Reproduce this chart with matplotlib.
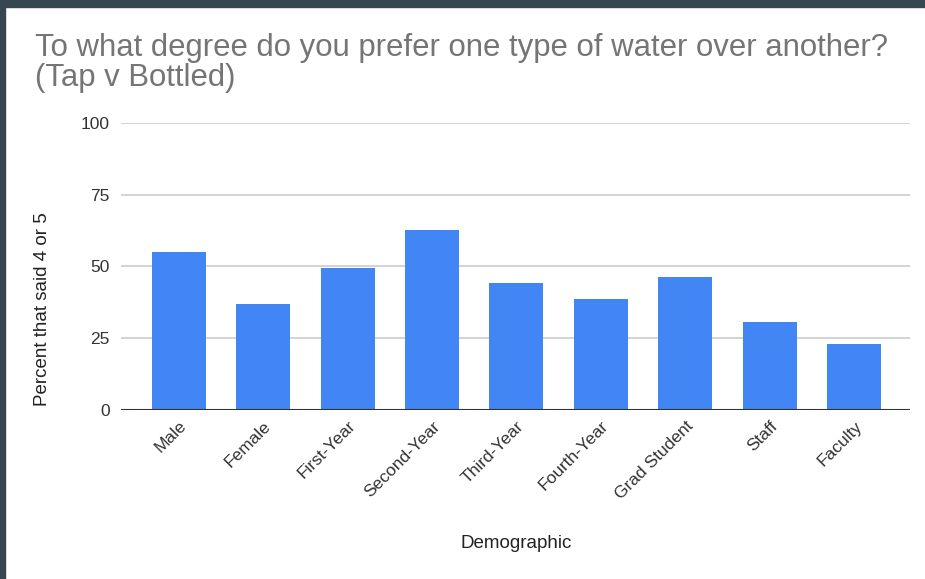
import matplotlib
matplotlib.use("Agg")
import matplotlib.pyplot as plt
from matplotlib.patches import Rectangle

plt.rcParams['font.family'] = ['Liberation Sans', 'DejaVu Sans']

categories = ["Male", "Female", "First-Year", "Second-Year", "Third-Year",
              "Fourth-Year", "Grad Student", "Staff", "Faculty"]
percent = [55.0, 37.1, 49.5, 62.6, 44.1, 38.6, 46.3, 30.6, 22.9]
yticks = [0, 25, 50, 75, 100]

fig = plt.figure(figsize=(9.25, 5.79), dpi=100)
ax = fig.add_axes([0.1308, 0.2919, 0.8530, 0.4957])

x = range(len(categories))
ax.bar(x, percent, width=0.64, color="#4285F4", zorder=2)

ax.set_ylim(0, 100)
ax.set_xlim(-0.683, 8.66)
ax.set_yticks(yticks)
ax.set_yticklabels([str(t) for t in yticks])
ax.set_xticks(list(x))
ax.set_xticklabels(categories, rotation=45, ha="right", rotation_mode="anchor")

for t in yticks[1:]:
    ax.axhline(t, color="#cccccc", lw=1.2, zorder=1)
ax.axhline(0, color="#333333", lw=1.5, zorder=3)

for s in ax.spines.values():
    s.set_visible(False)
ax.tick_params(axis="both", length=0, labelsize=12.5, colors="#333333")
ax.tick_params(axis="y", pad=8)
ax.tick_params(axis="x", pad=6)

fig.text(35 / 925, 1 - 33 / 579,
         "To what degree do you prefer one type of water over another?\n(Tap v Bottled)",
         fontsize=22.4, color="#757575", ha="left", va="top", linespacing=1.0)
fig.text(43 / 925, 1 - 309 / 579, "Percent that said 4 or 5", rotation=90,
         fontsize=13.5, color="#222222", ha="center", va="center")
fig.text(516 / 925, 1 - 543 / 579, "Demographic",
         fontsize=13.5, color="#222222", ha="center", va="center")

# dark frame around the screenshot
fig.patches.append(Rectangle((0, 1 - 7 / 579), 1, 7 / 579, transform=fig.transFigure,
                             color="#37474f", zorder=10))
fig.patches.append(Rectangle((0, 0), 5 / 925, 1, transform=fig.transFigure,
                             color="#37474f", zorder=10))

fig.savefig("out.png", dpi=100)
